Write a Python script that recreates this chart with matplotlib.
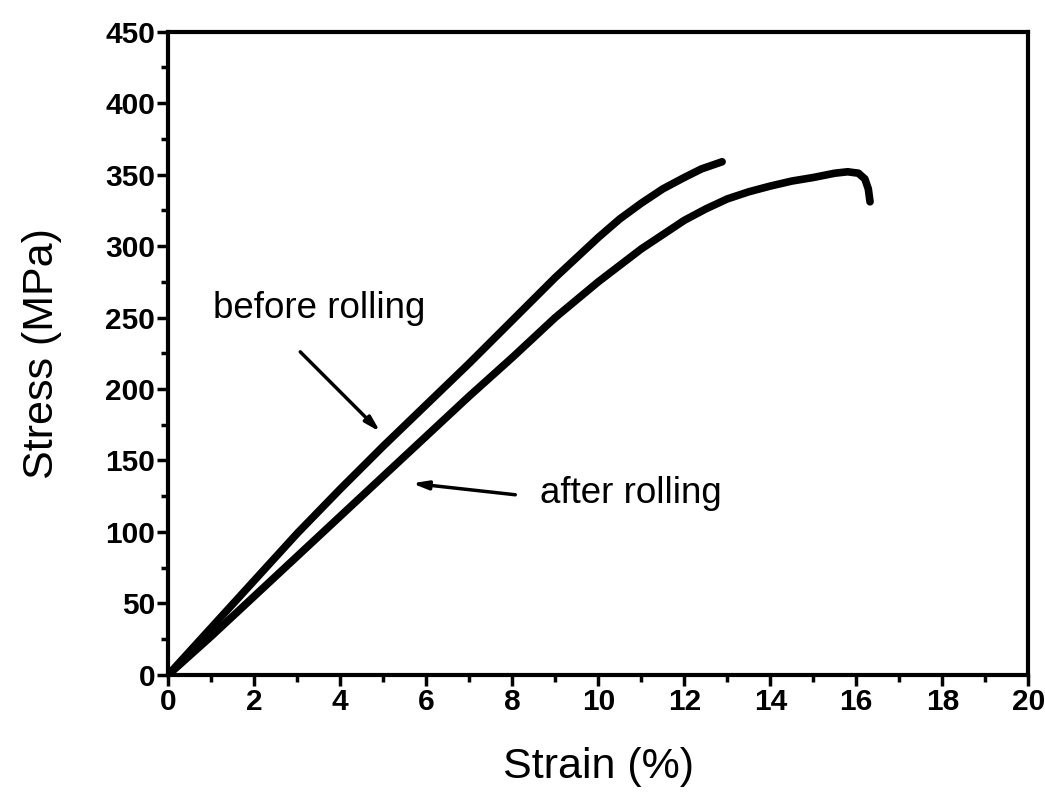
import matplotlib
matplotlib.use("Agg")
import matplotlib.pyplot as plt
from matplotlib.ticker import MultipleLocator

# Curves (strain in %, stress in MPa)
before_strain = [0, 1, 2, 3, 4, 5, 6, 7, 8, 9, 10, 10.5, 11, 11.5, 12, 12.4, 12.88]
before_stress = [0, 33, 66, 99, 130, 160, 189, 218, 248, 278, 306, 319, 330, 340, 348, 354, 359]

after_strain = [0, 1, 2, 3, 4, 5, 6, 7, 8, 9, 10, 11, 12, 12.5, 13, 13.5, 14, 14.5, 15,
                15.5, 15.8, 16.05, 16.2, 16.28, 16.32]
after_stress = [0, 27, 55, 83, 111, 139, 167, 195, 222, 250, 275, 298, 318, 326, 333, 338, 342,
                345.5, 348, 351, 352, 351, 347, 340, 331]

plt.rcParams['font.family'] = ['Liberation Sans', 'DejaVu Sans']

fig = plt.figure(figsize=(10.45, 7.93), dpi=100)
ax = fig.add_axes([0.161, 0.149, 0.823, 0.811])

ax.plot(before_strain, before_stress, color="black", lw=5.5, solid_capstyle="round",
        solid_joinstyle="round")
ax.plot(after_strain, after_stress, color="black", lw=5.5, solid_capstyle="round",
        solid_joinstyle="round")

# labels and their arrows
arrow = dict(arrowstyle="-|>,head_length=0.9,head_width=0.25", color="black", lw=2.5,
             shrinkA=0, shrinkB=0)
ax.text(3.5, 256, "before rolling", fontsize=26.5, ha="center", va="center")
ax.annotate("", xy=(4.93, 170), xytext=(3.07, 226), arrowprops=arrow)
ax.text(10.77, 127, "after rolling", fontsize=26.5, ha="center", va="center")
ax.annotate("", xy=(5.67, 134), xytext=(8.07, 126), arrowprops=arrow)

ax.set_xlim(0, 20)
ax.set_ylim(0, 450)
ax.xaxis.set_major_locator(MultipleLocator(2))
ax.xaxis.set_minor_locator(MultipleLocator(1))
ax.yaxis.set_major_locator(MultipleLocator(50))
ax.yaxis.set_minor_locator(MultipleLocator(25))
ax.tick_params(which="both", direction="out", width=2.5, labelsize=21.5, pad=1.5)
ax.tick_params(which="major", length=8)
ax.tick_params(which="minor", length=5)
for lbl in ax.get_xticklabels() + ax.get_yticklabels():
    lbl.set_fontweight("bold")
for sp in ax.spines.values():
    sp.set_linewidth(3)

ax.set_xlabel("Strain (%)", fontsize=31, labelpad=22)
ax.set_ylabel("Stress (MPa)", fontsize=31, labelpad=31)

plt.savefig("out.png", dpi=100)
